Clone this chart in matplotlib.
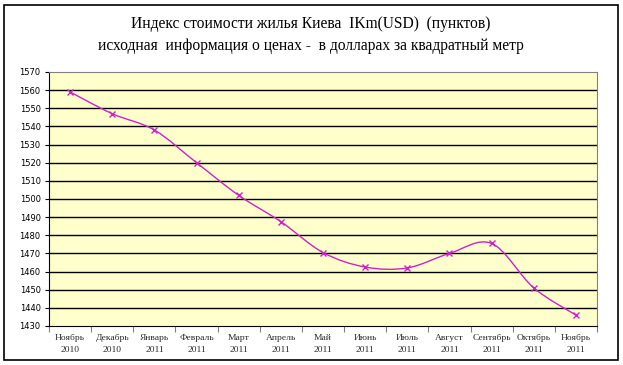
import matplotlib
matplotlib.use("Agg")
import matplotlib.pyplot as plt
import numpy as np
from matplotlib.path import Path
from matplotlib.patches import PathPatch, Rectangle

months = ["Ноябрь", "Декабрь", "Январь", "Февраль", "Март", "Апрель", "Май",
          "Июнь", "Июль", "Август", "Сентябрь", "Октябрь", "Ноябрь"]
years = ["2010", "2010", "2011", "2011", "2011", "2011", "2011",
         "2011", "2011", "2011", "2011", "2011", "2011"]
values = [1559, 1547, 1538, 1520, 1502, 1487.5, 1470.5, 1462.5, 1462, 1470, 1475.5, 1451, 1436]
yticks = list(range(1430, 1571, 10))
title1 = "Индекс стоимости жилья Киева  IKm(USD)  (пунктов)"
title2 = "исходная  информация о ценах -  в долларах за квадратный метр"

fig = plt.figure(figsize=(6.23, 3.65), dpi=100)
fig.patches.append(Rectangle((4/623, 5/365), 614/623, 355/365, transform=fig.transFigure,
                             fill=False, edgecolor="black", linewidth=1.2))
ax = fig.add_axes([49/623, 39/365, 548/623, 254/365])
ax.set_facecolor("#FFFFCC")

x = np.arange(len(values))
y = np.array(values, dtype=float)

# Excel-style smoothed line (Bezier through the points)
verts = [(x[0], y[0])]
codes = [Path.MOVETO]
n = len(x)
for i in range(n - 1):
    p0 = np.array([x[i-1], y[i-1]]) if i > 0 else np.array([x[i], y[i]])
    p1 = np.array([x[i], y[i]])
    p2 = np.array([x[i+1], y[i+1]])
    p3 = np.array([x[i+2], y[i+2]]) if i + 2 < n else p2
    c1 = p1 + (p2 - p0) / 6
    c2 = p2 - (p3 - p1) / 6
    verts += [tuple(c1), tuple(c2), tuple(p2)]
    codes += [Path.CURVE4] * 3
ax.add_patch(PathPatch(Path(verts, codes), fill=False, edgecolor="#CC22CC", linewidth=1.0, zorder=3))
ax.plot(x, y, linestyle="none", marker="x", color="#CC22CC", markersize=5, markeredgewidth=1.0, zorder=4)

ax.set_xlim(-0.5, n - 0.5)
ax.set_ylim(1430, 1570)
ax.set_yticks(yticks)
ax.set_yticklabels([str(v) for v in yticks], fontsize=6, family="DejaVu Sans")
for v in yticks[1:-1]:
    ax.axhline(v, color="black", linewidth=1.0, zorder=1)

ax.set_xticks(np.arange(-0.5, n, 1.0))
ax.set_xticklabels([])
ax.set_xticks(x, minor=True)
ax.set_xticklabels([f"{m}\n{yr}" for m, yr in zip(months, years)], minor=True,
                   fontsize=6.8, family="Liberation Serif", color="#2a2a2a",
                   linespacing=1.6)
ax.tick_params(axis="x", which="minor", length=0, pad=6)
ax.tick_params(axis="x", which="major", length=4, color="#808080", direction="out")
ax.tick_params(axis="y", length=3, direction="out", pad=3)

for s in ["top", "right"]:
    ax.spines[s].set_color("#808080")
for s in ["left", "bottom"]:
    ax.spines[s].set_color("black")

fig.text(311/623, 1 - 24/365, title1, ha="center", va="center", fontsize=11.2, family="Liberation Serif")
fig.text(311/623, 1 - 46/365, title2, ha="center", va="center", fontsize=11.2, family="Liberation Serif")

fig.savefig("out.png", dpi=100)
